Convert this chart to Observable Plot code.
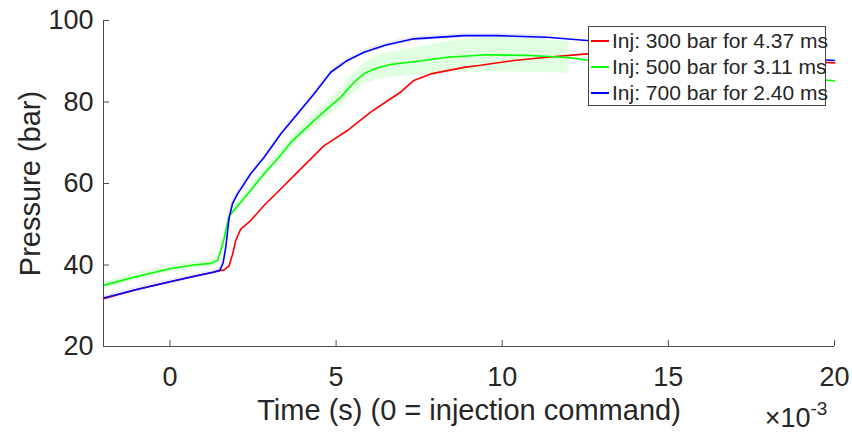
<!DOCTYPE html>
<html>
<head>
<meta charset="utf-8">
<script src="https://cdn.jsdelivr.net/npm/d3@7"></script>
<script src="https://cdn.jsdelivr.net/npm/@observablehq/plot@0.6"></script>
<style>
  html, body { margin: 0; padding: 0; background: white; }
  #wrap { position: relative; width: 852px; height: 434px; font-family: "Liberation Sans", Arial, sans-serif; }
  #legend { position: absolute; left: 588px; top: 26px; width: 238px; height: 80px; background: white;
            border: 1px solid #444; box-sizing: border-box; color: #262626; font-size: 21px; }
  #legend .row { position: absolute; left: 2px; height: 26px; display: flex; align-items: center; white-space: nowrap; }
  #legend .swatch { width: 18px; height: 0; border-top: 2px solid; margin-right: 3px; }
</style>
</head>
<body>
<div id="wrap"></div>
<script>
// ---- data (time in ms, pressure in bar) ----
const seriesLabels = ["Inj: 300 bar for 4.37 ms", "Inj: 500 bar for 3.11 ms", "Inj: 700 bar for 2.40 ms"];
const seriesColors = ["#ff0000", "#00ff00", "#0000ff"];

const redT = [-2, -1, 0, 0.7, 1.3, 1.5, 1.63, 1.78, 1.88, 1.98, 2.13, 2.43, 2.83, 3.34, 3.84, 4.64, 5.34, 6.04, 6.64, 6.94, 7.34, 7.85, 8.85, 9.35, 10.35, 11.35, 12.55, 14, 16, 18, 20];
const redP = [31.7, 34.0, 35.9, 37.2, 38.2, 38.6, 38.8, 39.8, 42.5, 46.0, 48.8, 50.9, 54.6, 58.7, 62.8, 69.3, 73.0, 77.5, 80.8, 82.4, 85.3, 86.9, 88.5, 89.0, 90.2, 91.0, 91.8, 91.8, 91.2, 90.4, 89.6];

const greenT = [-2, -1, 0, 0.7, 1.23, 1.43, 1.53, 1.63, 1.78, 1.88, 2.34, 2.83, 3.34, 3.64, 4.34, 5.14, 5.5, 5.84, 6.2, 6.64, 7.64, 8.35, 9.55, 10.85, 11.85, 12.0, 12.65, 14, 16, 18, 20];
const greenP = [35.0, 37.2, 39.1, 40.0, 40.4, 41.1, 43.5, 46.5, 52.0, 53.0, 57.4, 62.4, 67.0, 70.1, 75.5, 81.2, 84.5, 87.0, 88.3, 89.2, 90.2, 91.0, 91.6, 91.4, 91.0, 90.9, 90.2, 89.0, 87.7, 86.4, 85.2];
// spread (± std) of the 500 bar series, given up to 12 ms
const greenStd = [0.9, 0.9, 0.9, 0.9, 0.9, 1.0, 1.1, 1.1, 1.1, 1.0, 1.0, 1.1, 1.3, 1.4, 1.7, 2.1, 2.4, 2.7, 2.9, 3.1, 3.5, 3.8, 4.2, 4.1, 3.9, 3.9];

const blueT = [-2, -1, 0, 0.7, 1.3, 1.5, 1.6, 1.68, 1.78, 1.88, 2.03, 2.43, 2.83, 3.34, 3.84, 4.34, 4.84, 5.34, 5.84, 6.5, 7.34, 8.85, 9.85, 11.35, 12.55, 14, 16, 18, 20];
const blueP = [31.9, 34.0, 35.9, 37.2, 38.2, 38.7, 40.5, 44.3, 51.5, 55.0, 57.4, 62.4, 66.4, 72.2, 77.1, 82.0, 87.3, 90.2, 92.2, 94.0, 95.5, 96.3, 96.3, 95.9, 95.1, 94.0, 92.6, 91.3, 90.2];
const blueStd = [0.6, 0.6, 0.6, 0.6, 0.6, 0.8, 1.2, 1.5, 1.5, 1.2, 0.8, 0.6, 0.6, 0.6, 0.6, 0.6, 0.6, 0.6, 0.6, 0.6, 0.6, 0.6, 0.6, 0.6];

const xTicks = [0, 5, 10, 15, 20];
const yTicks = [20, 40, 60, 80, 100];
const xLabel = "Time (s) (0 = injection command)";
const yLabel = "Pressure (bar)";
const xExpBase = "×10";
const xExp = "-3";

// ---- build tables ----
const red = redT.map((t, i) => ({t, p: redP[i]}));
const green = greenT.map((t, i) => ({t, p: greenP[i]}));
const blue = blueT.map((t, i) => ({t, p: blueP[i]}));
const greenBand = greenStd.map((s, i) => ({t: greenT[i], lo: greenP[i] - s, hi: greenP[i] + s}));
const blueBand = blueStd.map((s, i) => ({t: blueT[i], lo: blueP[i] - s, hi: blueP[i] + s}));

const W = 852, H = 434, mL = 103, mR = 18, mT = 20, mB = 88;
const axisCol = "#4d4d4d", textCol = "#262626";

const chart = Plot.plot({
  width: W, height: H,
  marginLeft: mL, marginRight: mR, marginTop: mT, marginBottom: mB,
  style: {fontFamily: "'Liberation Sans', Arial, sans-serif", fontSize: "27px", color: textCol, background: "white"},
  x: {domain: [-2, 20]},
  y: {domain: [20, 100]},
  marks: [
    Plot.areaY(blueBand, {x: "t", y1: "lo", y2: "hi", fill: seriesColors[2], fillOpacity: 0.08}),
    Plot.areaY(greenBand, {x: "t", y1: "lo", y2: "hi", fill: seriesColors[1], fillOpacity: 0.12}),
    Plot.line(red, {x: "t", y: "p", stroke: seriesColors[0], strokeWidth: 1.6}),
    Plot.line(green, {x: "t", y: "p", stroke: seriesColors[1], strokeWidth: 1.6}),
    Plot.line(blue, {x: "t", y: "p", stroke: seriesColors[2], strokeWidth: 1.6}),
    Plot.ruleX([-2], {stroke: axisCol, strokeWidth: 1}),
    Plot.ruleY([20], {stroke: axisCol, strokeWidth: 1}),
    Plot.tickX(xTicks, {x: d => d, stroke: axisCol, insetTop: H - mT - mB - 6}),
    Plot.tickY(yTicks, {y: d => d, stroke: axisCol, insetRight: W - mL - mR - 6}),
    Plot.axisX(xTicks, {tickSize: 0, tickPadding: 20, fontSize: 27, color: textCol, label: null, tickFormat: d => String(d)}),
    Plot.axisY(yTicks, {tickSize: 0, tickPadding: 10, fontSize: 27, color: textCol, label: null, tickFormat: d => String(d)}),
    Plot.text([xLabel], {frameAnchor: "bottom", dy: 64, fontSize: 29, fill: textCol, textAnchor: "middle", lineAnchor: "middle"}),
    Plot.text([yLabel], {frameAnchor: "left", dx: -73, rotate: -90, fontSize: 29, fill: textCol, textAnchor: "middle", lineAnchor: "middle"}),
    Plot.text([xExpBase], {frameAnchor: "bottom-right", dx: -24, dy: 72, fontSize: 27, fill: textCol, textAnchor: "end", lineAnchor: "middle"}),
    Plot.text([xExp], {frameAnchor: "bottom-right", dx: -24, dy: 62, fontSize: 19, fill: textCol, textAnchor: "start", lineAnchor: "middle"})
  ]
});

const wrap = document.getElementById("wrap");
wrap.appendChild(chart);

// legend
const legend = document.createElement("div");
legend.id = "legend";
seriesLabels.forEach((lab, i) => {
  const row = document.createElement("div");
  row.className = "row";
  row.style.top = (1 + i * 26) + "px";
  const sw = document.createElement("span");
  sw.className = "swatch";
  sw.style.borderTopColor = seriesColors[i];
  const tx = document.createElement("span");
  tx.textContent = lab;
  row.appendChild(sw);
  row.appendChild(tx);
  legend.appendChild(row);
});
wrap.appendChild(legend);
</script>
</body>
</html>
